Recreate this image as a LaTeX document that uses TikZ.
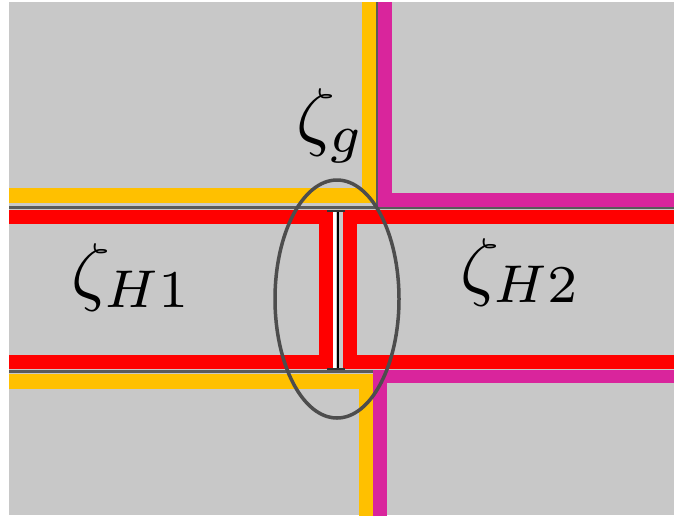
\documentclass[tikz,border=0pt]{standalone}
\usetikzlibrary{calc}
\definecolor{bggray}{HTML}{C8C8C8}
\definecolor{yel}{HTML}{FFC000}
\definecolor{mag}{HTML}{D9259C}
\definecolor{edge}{HTML}{5A5A5A}
\definecolor{ell}{HTML}{4D4D4D}
\tikzset{
  yband/.style={draw=yel,line width=14.5pt,miter limit=10},
  mband/.style={draw=mag,line width=14pt,miter limit=10},
  rband/.style={draw=red,line width=14pt,miter limit=10},
  edgeline/.style={draw=edge,line width=3.5pt},
  lbl/.style={inner sep=0pt,anchor=base west,scale=7.6}
}
\begin{document}
\begin{tikzpicture}[x=1pt,y=-1pt]
\useasboundingbox (0,0) rectangle (674,515);
\fill[white] (0,0) rectangle (674,515);
\fill[bggray] (9,2) rectangle (674,515);
\begin{scope}
\clip (9,2) rectangle (674,515);
% region edges
\draw[edgeline] (9,207.5) -- (674,207.5);
\draw[edgeline] (9,371.5) -- (674,371.5);
\draw[draw=edge,line width=2pt] (377,0) -- (377,207);
% yellow boundary (left region outer)
\draw[yband] (0,195.5) -- (369,195.5) -- (369,-10);
\draw[yband] (0,381.5) -- (366.5,381.5) -- (366.5,525);
% magenta boundary (right region outer)
\draw[mband] (680,200) -- (385,200) -- (385,-10);
\draw[draw=mag,line width=13.5pt,miter limit=10] (680,376.5) -- (380,376.5) -- (380,525);
% red boundaries
\draw[rband] (0,217) -- (325.5,217) -- (325.5,362) -- (0,362);
\draw[rband] (680,217) -- (349.5,217) -- (349.5,362) -- (680,362);
\end{scope}
% I-beam between the red boundaries
\coordinate (it) at (337,211);
\coordinate (ib) at (337,369);
\draw[white,line width=3pt] ($(it)+(-3,0)$) -- ($(ib)+(-3,0)$);
\draw[black,line width=1.6pt] ($(it)+(1,0)$) -- ($(ib)+(1,0)$);
\draw[draw=black!80,line width=1.5pt] ($(it)+(-10,0)$) -- ($(it)+(8,0)$);
\draw[draw=black!80,line width=1.5pt] ($(ib)+(-10,0)$) -- ($(ib)+(8,0)$);
% ellipse
\draw[ell,line width=3.5pt] (337,299) ellipse [x radius=62, y radius=119];
% labels
\node[lbl] (zg) at (295,141) {$\zeta_g$};
\node[lbl] (zh1) at (70,296) {$\zeta_{H1}$};
\node[lbl] (zh2) at (459,291) {$\zeta_{H2}$};
\end{tikzpicture}
\end{document}
